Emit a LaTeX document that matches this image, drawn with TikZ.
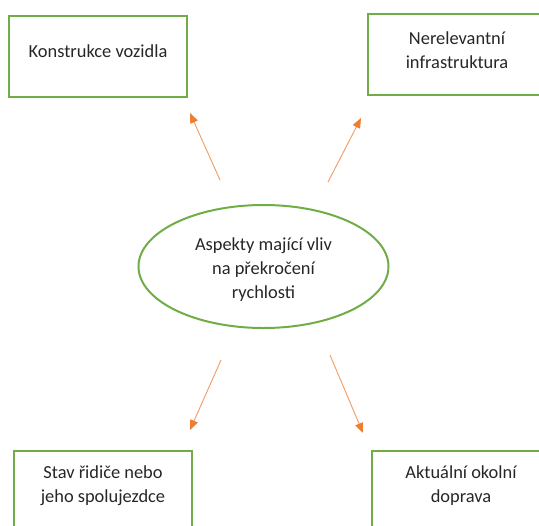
\documentclass[tikz,border=0pt]{standalone}
\usepackage{fontspec}
\setmainfont{Carlito}
\usetikzlibrary{positioning, arrows.meta, shapes.geometric}
\definecolor{BoxGreen}{HTML}{70AD47}
\definecolor{ArrowOrange}{HTML}{ED7D31}
\definecolor{TextDark}{HTML}{262626}

\begin{document}
\begin{tikzpicture}[
  x=0.75pt, y=-0.75pt,
  box/.style={draw=BoxGreen, line width=1.5pt, minimum width=133.5pt, minimum height=60.75pt, inner sep=0pt},
  txt/.style={font=\fontsize{13.8}{18}\selectfont, align=center, text=TextDark, inner sep=0pt},
  aspect/.style={ellipse, draw=BoxGreen, line width=1.5pt, minimum width=187.5pt, minimum height=92.25pt, inner sep=0pt},
  arr/.style={draw=ArrowOrange!75, line width=0.7pt, -{Triangle[length=7.5pt, width=6pt, color=ArrowOrange]}},
]
  \clip (0,0) rectangle (539,525);
  % boxes
  \node[box] (KV) at (98,56.5) {};
  \node[box] (NI) at (457,54.5) {};
  \node[box] (SR) at (103,491) {};
  \node[box] (AO) at (461,491) {};
  \node[txt] (KVt) at (98,51) {Konstrukce vozidla};
  \node[txt] (NIt) at (457,50) {Nerelevantní\\infrastruktura};
  \node[txt] (SRt) at (103,486) {Stav řidiče nebo\\jeho spolujezdce};
  \node[txt] (AOt) at (461,486) {Aktuální okolní\\doprava};
  % centre
  \node[aspect] (AMV) at (263.5,266.5) {};
  \node[txt] (AMVt) at (263.5,270) {Aspekty mající vliv\\na překročení\\rychlosti};
  % arrow ends
  \coordinate (a1) at (220,180);
  \coordinate (b1) at (190,113);
  \coordinate (a2) at (328,182);
  \coordinate (b2) at (361,118);
  \coordinate (a3) at (221,360);
  \coordinate (b3) at (190,430);
  \coordinate (a4) at (330,355);
  \coordinate (b4) at (363,433);
  \foreach \i in {1,...,4}
    \draw[arr] (a\i) -- (b\i);
\end{tikzpicture}
\end{document}
